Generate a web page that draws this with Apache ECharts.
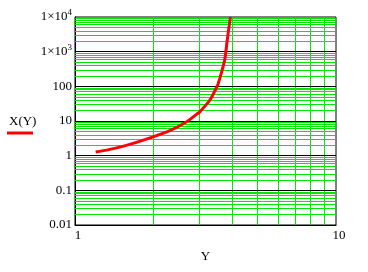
<!DOCTYPE html>
<html>
<head>
<meta charset="utf-8">
<script src="https://cdn.jsdelivr.net/npm/echarts@6/dist/echarts.min.js"></script>
<style>html,body{margin:0;padding:0;background:#fff;}#c{width:368px;height:272px;}</style>
</head>
<body>
<div id="c"></div>
<script>
// Curve X(Y): x = Y, y = X(Y)
const xValues = [1.20, 1.36, 1.62, 1.99, 2.32, 2.67, 2.92, 3.00, 3.23, 3.33, 3.48, 3.53, 3.64, 3.75, 3.82, 3.88, 3.94];
const yValues = [1.27, 1.52, 2.12, 3.5, 5.4, 9.4, 15.5, 18, 33.8, 47, 91, 114, 248, 600, 1815, 4400, 10000];
// axis ticks
const xTickLabels = ['1', '10'];
const yDecades = [0.01, 0.1, 1, 10, 100, 1000, 10000];
const yTickLabels = ['0.01', '0.1', '1', '10', '100', '1×10{s|3}', '1×10{s|4}'];
// grid line positions
const xGridLines = [2, 3, 4, 5, 6, 7, 8, 9];
const yMinorMult = [2, 3, 4, 5, 6, 7, 8, 9];
const yInnerDecades = [0.1, 1, 10, 100, 1000];

const GREEN = '#00e600';
const FONT = '"Liberation Serif", "Times New Roman", serif';

const minorY = [];
for (let i = 0; i < yDecades.length - 1; i++) {
  for (const m of yMinorMult) minorY.push(m * yDecades[i]);
}
const gridMarks = [];
for (const v of xGridLines) gridMarks.push({ xAxis: v, lineStyle: { color: GREEN } });
for (const v of minorY) gridMarks.push({ yAxis: v, lineStyle: { color: GREEN } });
for (const v of yInnerDecades) gridMarks.push({ yAxis: v, lineStyle: { color: '#000' } });

const chart = echarts.init(document.getElementById('c'), null, { renderer: 'canvas' });
chart.setOption({
  animation: false,
  backgroundColor: '#fff',
  grid: { left: 75, right: 32, top: 17, bottom: 47, show: true, borderColor: '#000', borderWidth: 1, backgroundColor: '#fff' },
  xAxis: {
    type: 'log', logBase: 10, min: 1, max: 10,
    name: 'Y', nameLocation: 'middle', nameGap: 25,
    nameTextStyle: { fontFamily: FONT, fontSize: 13, color: '#000' },
    axisLine: { show: true, lineStyle: { color: '#000' } },
    axisTick: { show: false },
    splitLine: { show: false },
    axisLabel: {
      margin: 4, fontFamily: FONT, fontSize: 13, color: '#000', padding: [0, 0, 0, 6],
      formatter: function (v) { const i = Math.round(Math.log10(v)); return xTickLabels[i] || ''; }
    }
  },
  yAxis: {
    type: 'log', logBase: 10, min: 0.01, max: 10000, interval: 1,
    axisLine: { show: true, lineStyle: { color: '#000' } },
    axisTick: { show: false },
    splitLine: { show: false },
    axisLabel: {
      margin: 3, fontFamily: FONT, fontSize: 13, color: '#000',
      formatter: function (v) { const i = Math.round(Math.log10(v)) + 2; return yTickLabels[i] || ''; },
      rich: {
        s: { fontFamily: FONT, fontSize: 9, color: '#000', padding: [0, 0, 9, 0] }
      }
    }
  },
  graphic: [
    { type: 'text', left: 9, top: 115, style: { text: 'X(Y)', font: '13px ' + FONT, fill: '#000' } },
    { type: 'rect', shape: { x: 7, y: 131.5, width: 26, height: 3 }, style: { fill: '#ff0000' } }
  ],
  series: [
    {
      type: 'line', data: [], z: 1, silent: true,
      markLine: { silent: true, symbol: 'none', label: { show: false }, lineStyle: { type: 'solid', width: 1 }, data: gridMarks }
    },
    {
      name: 'X(Y)', type: 'line', z: 5, smooth: 0.2, showSymbol: false,
      lineStyle: { color: '#ff0000', width: 3 },
      data: xValues.map((x, i) => [x, yValues[i]])
    }
  ]
});
</script>
</body>
</html>
